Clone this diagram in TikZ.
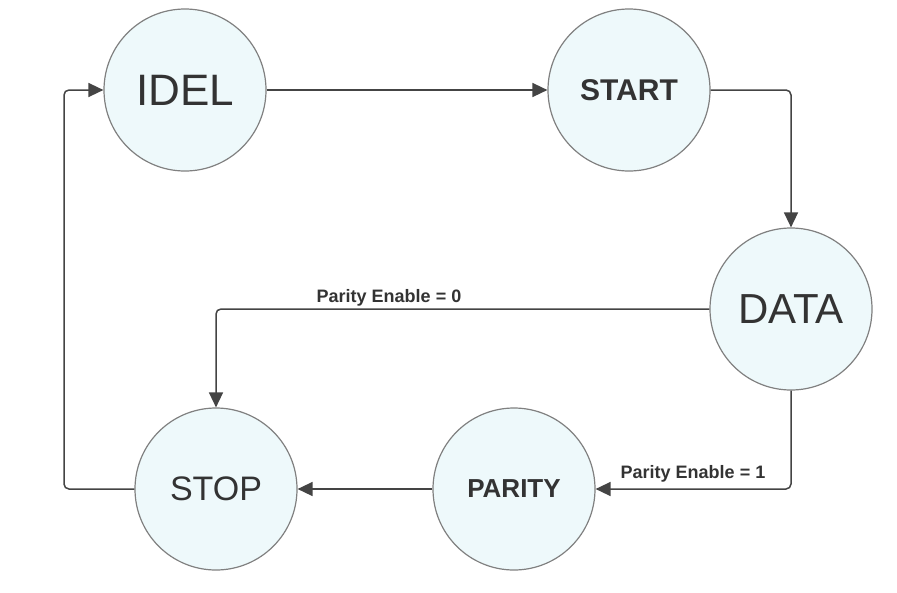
\documentclass[tikz,border=0pt]{standalone}
\usepackage{fontspec}
\setmainfont{Liberation Sans}
\usetikzlibrary{positioning,arrows.meta}
\definecolor{statefill}{HTML}{EEF9FB}
\definecolor{stateline}{HTML}{808080}
\definecolor{wire}{HTML}{444444}
\definecolor{ink}{HTML}{333333}

\begin{document}
\begin{tikzpicture}[x=1pt, y=-1pt,
		% state circles
		statenode/.style={circle, draw=stateline, fill=statefill, line width=1.2pt, minimum size=162pt, inner sep=0pt, text=ink},
		% connector lines with rounded bends
		wireline/.style={draw=wire, line width=1.5pt, rounded corners=5pt, -{Triangle[length=15pt, width=14pt]}},
		condlabel/.style={font=\fontsize{18}{21}\selectfont\bfseries, text=ink, inner sep=0pt},
		point/.style={coordinate}
	]
	\useasboundingbox (0,0) rectangle (897,592);

	%Nodes
	\node[statenode, font=\fontsize{44}{48}\selectfont]            (idel)    at (185,90)                          {IDEL};
	\node[statenode, font=\fontsize{30}{34}\selectfont\bfseries]   (start)   [right of=idel, node distance=444pt] {START};
	\node[statenode, font=\fontsize{42}{46}\selectfont]            (data)    at (791,309)                         {DATA};
	\node[statenode, font=\fontsize{34}{38}\selectfont]            (stop)    at (216,489)                         {STOP};
	\node[statenode, font=\fontsize{26}{30}\selectfont\bfseries]   (parity)  [right of=stop, node distance=298pt] {PARITY};
	\node[point]                                                   (back)    at (64,489)                          {};

	%Lines
	\draw[wireline] (idel)        --      (start);
	\draw[wireline] (start.east)  -|      (data.north);
	\draw[wireline] (data.west)   -|      (stop.north);
	\draw[wireline] (data.south)  |-      (parity.east);
	\draw[wireline] (parity)      --      (stop);
	% loop back from STOP up to IDEL
	\draw[wireline] (stop.west)   --      (back) |- (idel.west);

	%Labels
	\node[condlabel] (cond0) at (389,298) {Parity Enable = 0};
	\node[condlabel] (cond1) at (693,474) {Parity Enable = 1};
\end{tikzpicture}
\end{document}
